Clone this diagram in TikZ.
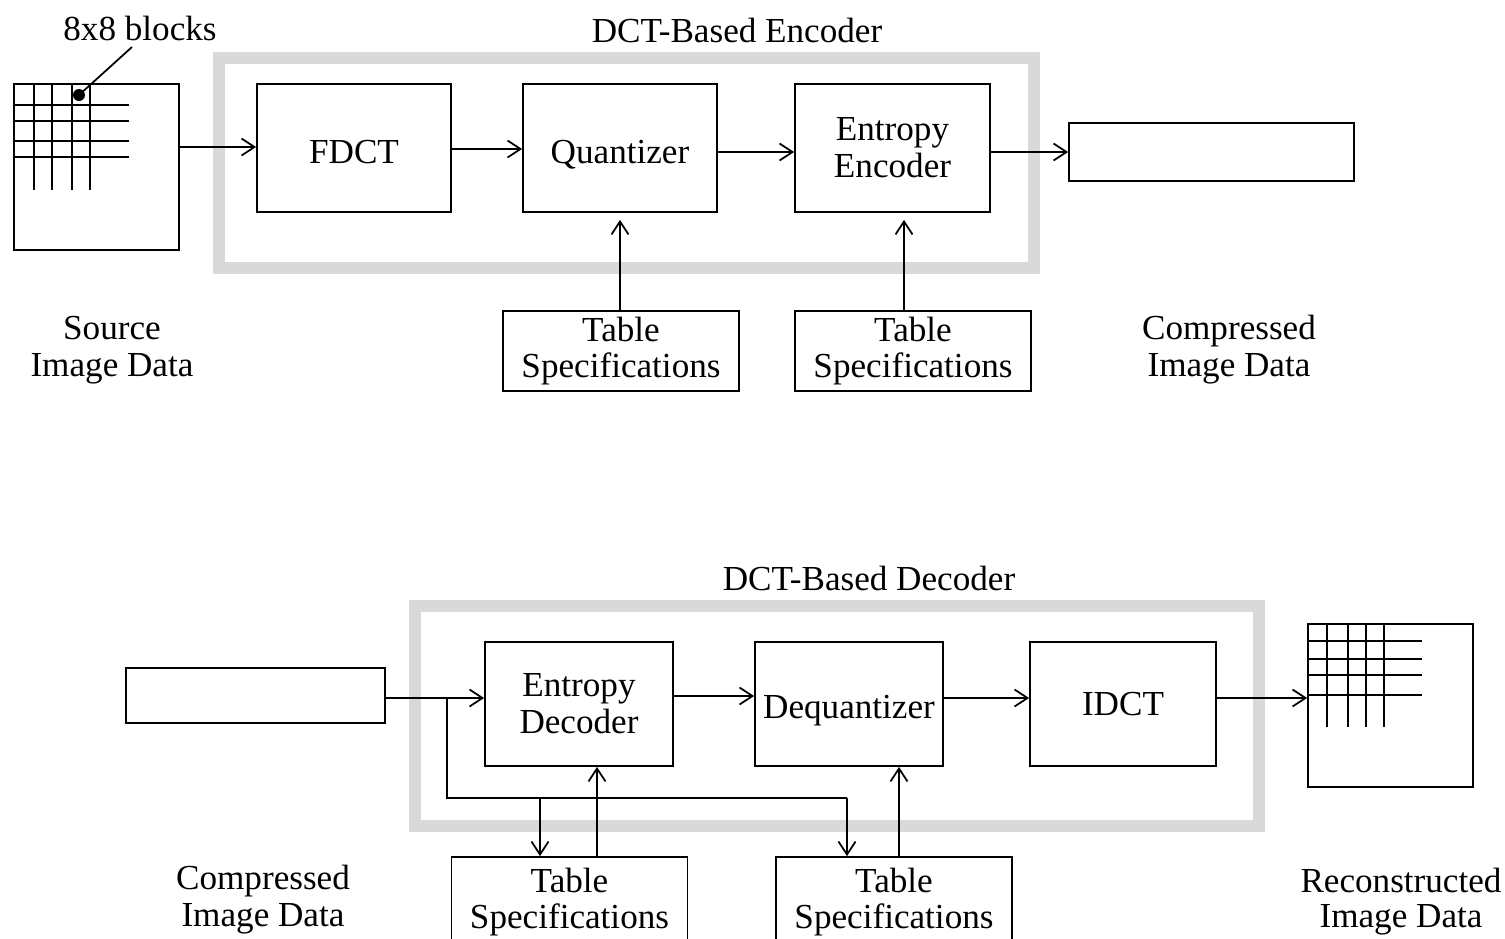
\documentclass[tikz,border=0pt]{standalone}
\usepackage{fontspec}
\setmainfont{Liberation Serif}
\usetikzlibrary{arrows.meta}

\tikzset{
  blk/.style={draw, minimum width=3.88cm, minimum height=2.56cm, align=center, inner sep=0pt},
  einzeilig/.style={text height=20pt, text depth=2pt},
  tabelle/.style={draw, minimum width=4.72cm, minimum height=1.6cm, align=center, inner sep=0pt},
  leer/.style={draw, inner sep=0pt},
  pfeil/.style={-{Straight Barb[length=0.26cm,width=0.34cm]}},
  rahmen/.style={draw=black!15, line width=0.24cm},
  beschr/.style={align=center},
}

\begin{document}
\begin{tikzpicture}[x=0.02cm,y=-0.02cm,line width=1pt,
  every node/.style={font=\fontsize{20}{20}\selectfont}]
\useasboundingbox (0,0) rectangle (1505,938);
%Encoder oben
\draw[rahmen] (219,58) rectangle (1034,268);
\node (enctitel) at (737,30) {DCT-Based Encoder};
\node (blocktitel) at (140,28) {8x8 blocks};
\node[leer, minimum width=3.3cm, minimum height=3.32cm] (src) at (96.5,167) {};
\node[blk, einzeilig] (fdct) at (354,148) {FDCT};
\node[blk, einzeilig] (quant) at (620,148) {Quantizer};
\node[blk, minimum width=3.9cm] (enc) at (892.5,148) {Entropy\\[1pt]Encoder};
\node[leer, minimum width=5.7cm, minimum height=1.16cm] (cout) at (1211.5,152) {};
\node[tabelle] (tab1) at (621,351) {Table\\[1pt]Specifications};
\node[tabelle] (tab2) at (913,351) {Table\\[1pt]Specifications};
\node[beschr] (srclabel) at (112,350) {Source\\[1pt]Image Data};
\node[beschr] (coutlabel) at (1229,350) {Compressed\\[1pt]Image Data};
%Gitter im Quellbild
\begin{scope}[shift={(src.north west)}]
  \foreach \y in {22,38,58,74} \draw (0,\y) -- (116,\y);
  \foreach \x in {21,39,59,77} \draw (\x,0) -- (\x,107);
\end{scope}
\fill (79,95) circle (0.12cm);
\draw (79,95) -- (132,47);
\draw[pfeil] (src.east |- 0,147) -- (fdct.west |- 0,147);
\draw[pfeil] (fdct.east |- 0,149) -- (quant.west |- 0,149);
\draw[pfeil] (quant.east |- 0,152) -- (enc.west |- 0,152);
\draw[pfeil] (enc.east |- 0,152) -- (cout.west |- 0,152);
\draw[pfeil, shorten >=0.14cm] (tab1.north -| 620,0) -- (quant.south -| 620,0);
\draw[pfeil, shorten >=0.14cm] (tab2.north -| 904,0) -- (enc.south -| 904,0);
%Decoder unten
\draw[rahmen] (415,606) rectangle (1259,826);
\node (dectitel) at (869,578) {DCT-Based Decoder};
\node[leer, minimum width=5.18cm, minimum height=1.1cm] (cin) at (255.5,695.5) {};
\node[blk, minimum width=3.76cm, minimum height=2.48cm] (entdec) at (579,704) {Entropy\\[1pt]Decoder};
\node[blk, minimum width=3.76cm, minimum height=2.48cm, text height=20pt, text depth=4pt] (dequant) at (849,704) {Dequantizer};
\node[blk, minimum width=3.72cm, minimum height=2.48cm] (idct) at (1123,704) {IDCT};
\node[leer, minimum width=3.3cm, minimum height=3.26cm] (rek) at (1390.5,705.5) {};
\node[tabelle, minimum height=1.8cm] (tab3) at (569.5,902) {Table\\Specifications};
\node[tabelle, minimum height=1.8cm] (tab4) at (894,902) {Table\\Specifications};
\node[beschr] (cinlabel) at (263,900) {Compressed\\[1pt]Image Data};
\node[beschr] (reklabel) at (1401,902) {Reconstructed\\Image Data};
%Gitter im rekonstruierten Bild
\begin{scope}[shift={(rek.north west)}]
  \foreach \y in {18,36,52,72} \draw (0,\y) -- (115,\y);
  \foreach \x in {20,41,59,77} \draw (\x,0) -- (\x,104);
\end{scope}
\coordinate (abzw) at (447,698);
\coordinate (knick) at (447,798);
\coordinate (ende) at (847,798);
\draw[pfeil] (cin.east |- abzw) -- (entdec.west |- abzw);
\draw[pfeil] (entdec.east |- 0,696) -- (dequant.west |- 0,696);
\draw[pfeil] (dequant.east |- 0,698) -- (idct.west |- 0,698);
\draw[pfeil] (idct.east |- 0,698) -- (rek.west |- 0,698);
\draw (abzw) -- (knick) -- (ende);
\draw[pfeil] (540,798) -- (tab3.north -| 540,0);
\draw[pfeil] (ende) -- (tab4.north -| ende);
\draw[pfeil] (tab3.north -| 597,0) -- (entdec.south -| 597,0);
\draw[pfeil] (tab4.north -| 899,0) -- (dequant.south -| 899,0);
\end{tikzpicture}
\end{document}
